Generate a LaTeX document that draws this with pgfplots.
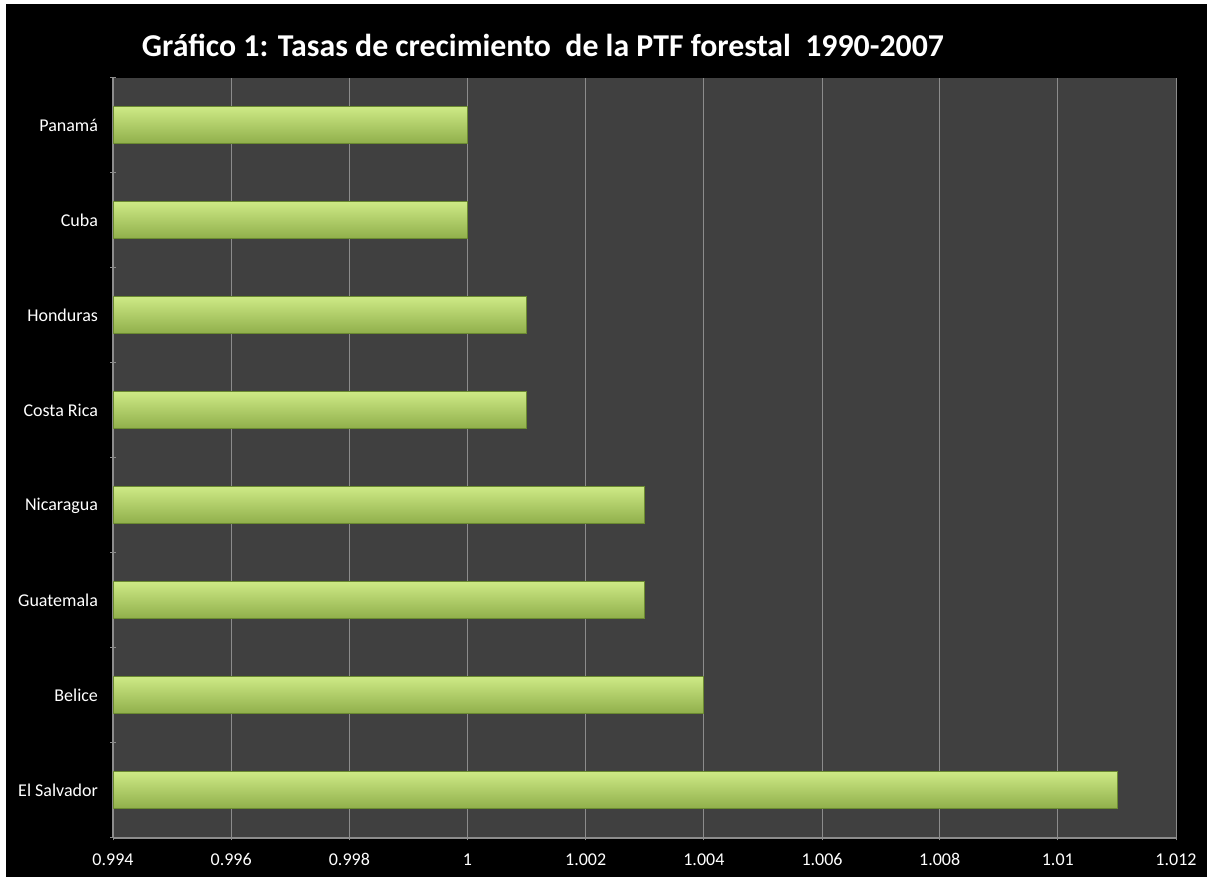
\documentclass[border=0pt]{standalone}
\usepackage{pgfplots}
\pgfplotsset{compat=1.18}
\usepackage{fontspec}
\setmainfont{Carlito}
\definecolor{plotbg}{HTML}{404040}
\definecolor{gridc}{HTML}{8C8C8C}
\definecolor{barhi}{HTML}{CDE985}
\definecolor{barmid}{HTML}{A6C95B}
\definecolor{barlo}{HTML}{8FAE4A}
\definecolor{baredge}{HTML}{6B8A31}

\pgfplotsset{
  greenbar/.style={xbar, bar shift=0pt, draw=baredge, line width=0.5bp,
    top color=barhi, middle color=barmid, bottom color=barlo},
}

\begin{document}
\begin{tikzpicture}
  % page background (1 px = 0.5 bp)
  \fill[white] (0bp,0bp) rectangle (603.5bp,438.5bp);
  \fill[black] (3bp,0bp) rectangle (603.5bp,436.5bp);
  \node[text=white, font=\fontsize{15.9bp}{18bp}\selectfont\bfseries]
    at (271.5bp,416bp) {Gráfico 1: Tasas de crecimiento~ de la PTF forestal~ 1990-2007};

  \begin{axis}[
    at={(56.5bp,19.5bp)}, anchor=south west,
    scale only axis,
    width=531.5bp, height=380bp,
    % bars start at 0.994: shift the axis origin there
    x coord trafo/.code={\pgfmathparse{#1-0.994}},
    x coord inv trafo/.code={\pgfmathparse{#1+0.994}},
    scaled x ticks=false,
    bar width=18.5bp,
    xmin=0.994, xmax=1.012,
    ymin=-0.5, ymax=7.5,
    xtick={0.994,0.996,0.998,1,1.002,1.004,1.006,1.008,1.01,1.012},
    ytick={-0.5,0.5,1.5,2.5,3.5,4.5,5.5,6.5,7.5},
    yticklabels={},
    extra y ticks={0,1,2,3,4,5,6,7},
    extra y tick labels={El Salvador,Belice,Guatemala,Nicaragua,Costa Rica,Honduras,Cuba,Panamá},
    extra y tick style={major tick length=0pt, ymajorgrids=false},
    tick align=outside,
    major tick length=2.5bp,
    tick style={draw=gridc, line width=0.5bp},
    axis lines=left,
    axis line style={-, draw=gridc, line width=0.6bp},
    axis background/.style={fill=plotbg},
    xmajorgrids,
    major grid style={draw=gridc, line width=0.5bp},
    tick label style={text=white, font=\fontsize{9bp}{11bp}\selectfont},
    /pgf/number format/assume math mode=true,
    xticklabel style={/pgf/number format/fixed, /pgf/number format/precision=3, yshift=-3bp},
    yticklabel style={xshift=-4bp},
  ]
    \addplot[greenbar] coordinates {(1.011,0)}; % El Salvador
    \addplot[greenbar] coordinates {(1.004,1)}; % Belice
    \addplot[greenbar] coordinates {(1.003,2)}; % Guatemala
    \addplot[greenbar] coordinates {(1.003,3)}; % Nicaragua
    \addplot[greenbar] coordinates {(1.001,4)}; % Costa Rica
    \addplot[greenbar] coordinates {(1.001,5)}; % Honduras
    \addplot[greenbar] coordinates {(1.000,6)}; % Cuba
    \addplot[greenbar] coordinates {(1.000,7)}; % Panama
  \end{axis}
\end{tikzpicture}
\end{document}
